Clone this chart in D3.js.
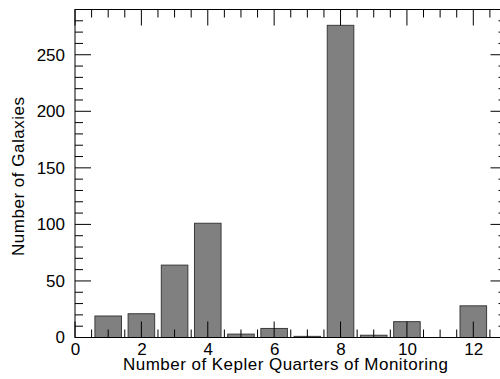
<!DOCTYPE html>
<html><head><meta charset="utf-8">
<script src="https://cdn.jsdelivr.net/npm/d3@7"></script>
<style>body{margin:0;background:#fff}svg{display:block}text{font-family:"Liberation Sans",Arial,sans-serif}</style>
</head><body><svg id="c" width="500" height="379"></svg>
<script>
const quarters = [1,2,3,4,5,6,7,8,9,10,11,12];
const counts   = [19,21,64,101,3,8,1,276,2,14,0,28];
const xMajorTicks = [0,2,4,6,8,10,12];
const yMajorTicks = [0,50,100,150,200,250];

const svg = d3.select("#c");
const L = 75, R = 506.5, T = 9.5, B = 337.5;
const x = d3.scaleLinear().domain([0,13]).range([L,R]);
const y = d3.scaleLinear().domain([0,290]).range([B,T]);
const bw = x(0.8)-x(0);

svg.append("g").selectAll("rect").data(quarters).join("rect")
  .attr("x", (d)=>x(d)-bw/2).attr("width", bw)
  .attr("y", (d,i)=>y(counts[i])).attr("height", (d,i)=>B-y(counts[i]))
  .attr("fill","#808080").attr("stroke","#3a3a3a").attr("stroke-width",1);

const xMinor = d3.range(0,13.01,0.5).filter(v=>!xMajorTicks.includes(v));
const yMinor = d3.range(0,291,10).filter(v=>!yMajorTicks.includes(v));
const g = svg.append("g").attr("stroke","#000").attr("stroke-width",1);
function tk(vals, len){
  vals.forEach(v=>{
    const px = x(v);
    g.append("line").attr("x1",px).attr("x2",px).attr("y1",B).attr("y2",B-len);
    g.append("line").attr("x1",px).attr("x2",px).attr("y1",T).attr("y2",T+len);
  });
}
function tky(vals, len){
  vals.forEach(v=>{
    const py = y(v);
    g.append("line").attr("x1",L).attr("x2",L+len).attr("y1",py).attr("y2",py);
    g.append("line").attr("x1",R).attr("x2",R-len).attr("y1",py).attr("y2",py);
  });
}
tk(xMinor,8); tk(xMajorTicks,16); tky(yMinor,8); tky(yMajorTicks,16);
g.append("rect").attr("x",L).attr("y",T).attr("width",R-L).attr("height",B-T).attr("fill","none");

const xa = d3.axisBottom(x).tickValues(xMajorTicks).tickSize(0).tickPadding(5);
svg.append("g").attr("transform",`translate(0,${B})`).call(xa)
  .call(s=>s.select(".domain").remove())
  .selectAll("text").attr("font-size",17).attr("fill","#000").attr("font-family","Liberation Sans, Arial, sans-serif");
const ya = d3.axisLeft(y).tickValues(yMajorTicks).tickSize(0).tickPadding(10);
svg.append("g").attr("transform",`translate(${L},0)`).call(ya)
  .call(s=>s.select(".domain").remove())
  .selectAll("text").attr("font-size",17).attr("fill","#000").attr("font-family","Liberation Sans, Arial, sans-serif");

svg.append("text").attr("x",285.5).attr("y",369.5).attr("text-anchor","middle")
  .attr("font-size",17).attr("textLength",325).attr("lengthAdjust","spacing")
  .text("Number of Kepler Quarters of Monitoring");
svg.append("text").attr("transform",`translate(23.5,176.5) rotate(-90)`).attr("text-anchor","middle")
  .attr("font-size",17).attr("textLength",159).attr("lengthAdjust","spacing")
  .text("Number of Galaxies");
</script></body></html>
